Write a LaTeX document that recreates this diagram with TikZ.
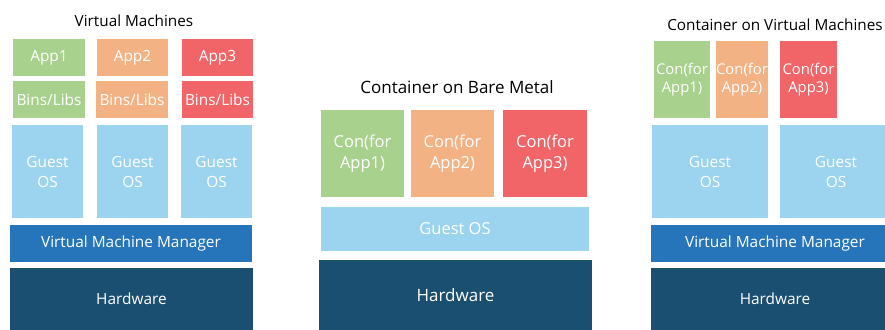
\documentclass[tikz,border=0pt]{standalone}
\usepackage{fontspec}
\setmainfont{Open Sans}
\usetikzlibrary{positioning}

\definecolor{appgreen}{RGB}{169,209,142}
\definecolor{apporange}{RGB}{243,178,131}
\definecolor{appred}{RGB}{241,101,104}
\definecolor{guestblue}{RGB}{156,212,240}
\definecolor{vmmblue}{RGB}{38,117,187}
\definecolor{hwblue}{RGB}{27,79,114}

\begin{document}
\begin{tikzpicture}
      [
        x=1pt, y=-1pt,
        layer/.style={inner sep=0pt, text=white, align=center,
          font=\fontsize{15.4}{20}\selectfont},
        bigger/.style={font=\fontsize{16.5}{21}\selectfont},
        smaller/.style={font=\fontsize{14.8}{18}\selectfont},
        heading/.style={inner sep=0pt, text=black,
          font=\fontsize{15.3}{17}\selectfont}
      ]

      \clip (0,0) rectangle (885,329);

      % virtual machines
      \node (vmTitle) at (134,21) [heading] {Virtual Machines};
      \node (vmApp1) at (49,57.5) [layer, fill=appgreen, minimum width=72, minimum height=37] {App1};
      \node (vmApp2) at (132.5,57.5) [layer, fill=apporange, minimum width=71, minimum height=37] {App2};
      \node (vmApp3) at (217.5,57.5) [layer, fill=appred, minimum width=71, minimum height=37] {App3};
      \node (vmBins1) at (49,99.5) [layer, fill=appgreen, minimum width=72, minimum height=37] {Bins/Libs};
      \node (vmBins2) at (132,99.5) [layer, fill=apporange, minimum width=72, minimum height=37] {Bins/Libs};
      \node (vmBins3) at (217.5,99.5) [layer, fill=appred, minimum width=71, minimum height=37] {Bins/Libs};
      \node (vmGuest1) at (47.5,171.5) [layer, fill=guestblue, minimum width=71, minimum height=93] {Guest\\OS};
      \node (vmGuest2) at (132.5,171.5) [layer, fill=guestblue, minimum width=71, minimum height=93] {Guest\\OS};
      \node (vmGuest3) at (216.5,171.5) [layer, fill=guestblue, minimum width=71, minimum height=93] {Guest\\OS};
      \node (vmManager) at (131,243.5) [layer, fill=vmmblue, minimum width=242, minimum height=37] {Virtual Machine Manager};
      \node (vmHardware) at (131.5,299) [layer, fill=hwblue, minimum width=243, minimum height=62] {Hardware};

      % container on bare metal
      \node (bmTitle) at (457,87) [heading, font=\fontsize{17}{19}\selectfont] {Container on Bare Metal};
      \node (bmCon1) at (362.5,153.5) [layer, bigger, fill=appgreen, minimum width=83, minimum height=87] {Con(for\\App1)};
      \node (bmCon2) at (452.5,153.5) [layer, bigger, fill=apporange, minimum width=83, minimum height=87] {Con(for\\App2)};
      \node (bmCon3) at (545,153.5) [layer, bigger, fill=appred, minimum width=84, minimum height=87] {Con(for\\App3)};
      \node (bmGuest) at (455,229) [layer, bigger, fill=guestblue, minimum width=268, minimum height=44] {Guest OS};
      \node (bmHardware) at (455.5,295) [layer, fill=hwblue, minimum width=273, minimum height=70,
        font=\fontsize{17}{19}\selectfont] {Hardware};

      % container on virtual machines
      \node (cvTitle) at (775,25) [heading] {Container on Virtual Machines};
      \node (cvCon1) at (682,79.5) [layer, smaller, fill=appgreen, minimum width=56, minimum height=77] {Con(for\\App1)};
      \node (cvCon2) at (742,79.5) [layer, smaller, fill=apporange, minimum width=52, minimum height=77] {Con(for\\App2)};
      \node (cvCon3) at (808.5,79.5) [layer, smaller, fill=appred, minimum width=57, minimum height=77] {Con(for\\App3)};
      \node (cvGuest1) at (710,171.5) [layer, fill=guestblue, minimum width=116, minimum height=93] {Guest\\OS};
      \node (cvGuest2) at (836,171.5) [layer, fill=guestblue, minimum width=112, minimum height=93] {Guest\\OS};
      \node (cvManager) at (775,243.5) [layer, fill=vmmblue, minimum width=248, minimum height=37] {Virtual Machine Manager};
      \node (cvHardware) at (775,299) [layer, fill=hwblue, minimum width=248, minimum height=62] {Hardware};

    \end{tikzpicture}
\end{document}
